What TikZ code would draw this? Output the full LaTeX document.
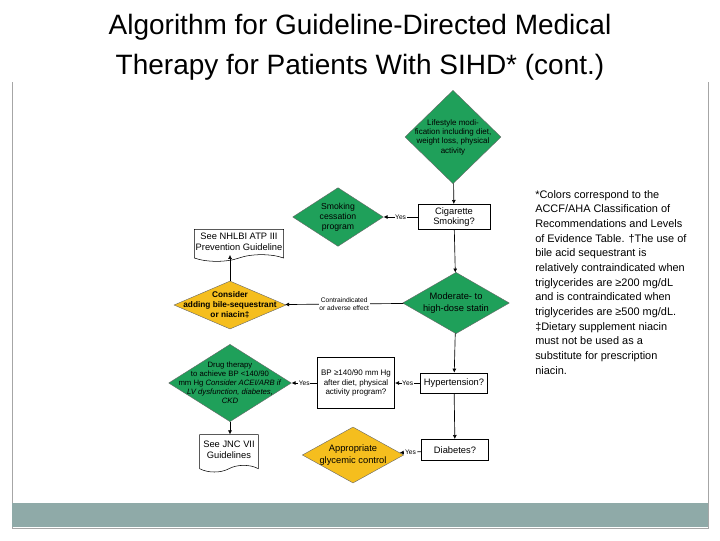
\documentclass[tikz,border=0pt]{standalone}
\usepackage{fontspec}
\setmainfont{Liberation Sans}
\usetikzlibrary{shapes.geometric,shapes.symbols,arrows.meta}
\definecolor{gr}{HTML}{1FA05A}
\definecolor{yl}{HTML}{F5BE1E}
\definecolor{bar}{HTML}{8FAAA8}
\begin{document}
\begin{tikzpicture}[x=0.75pt,y=-0.75pt,
  dia/.style={diamond,draw=black!60,line width=0.3pt,inner sep=0pt},
  tx/.style={align=center,font=\fontsize{6.5}{7.5}\selectfont,inner sep=0pt},
  bx/.style={draw,line width=0.5pt,align=center,font=\fontsize{7}{8}\selectfont,inner sep=1pt},
  doc/.style={tape,tape bend top=none,draw,line width=0.4pt,align=center,font=\fontsize{7}{8}\selectfont,inner sep=1pt},
  ar/.style={-{Latex[length=3pt,width=3pt]},line width=0.5pt},
  lb/.style={font=\fontsize{5}{6}\selectfont,fill=white,inner sep=0.5pt,align=center}]
\useasboundingbox (0,0) rectangle (720,540);
\fill[white] (0,0) rectangle (720,540);
\draw[black!35] (12,82) -- (12,528) -- (708,528) -- (708,82);
\fill[bar] (12,503) rectangle (708,527);
\node[font=\fontsize{21}{30}\selectfont,align=center] (title) at (360,47) {Algorithm for Guideline-Directed Medical\\Therapy for Patients With SIHD* (cont.)};
\node[dia,fill=gr,minimum width=72,minimum height=70] (life) at (453,137) {};
\node[tx,font=\fontsize{6}{7}\selectfont] at (life) {Lifestyle modi-\\fication including diet,\\weight loss, physical\\activity};
\node[bx,minimum width=54,minimum height=19] (cig) at (454,217) {Cigarette\\Smoking?};
\node[dia,fill=gr,minimum width=68,minimum height=44] (smk) at (338,217) {};
\node[tx] at (smk) {Smoking\\cessation\\program};
\node[doc,minimum width=66,minimum height=24] (nhl) at (239,242) {See NHLBI ATP III\\Prevention Guideline};
\node[dia,fill=gr,minimum width=80,minimum height=46] (sta) at (456,303) {};
\node[tx,font=\fontsize{7}{8.5}\selectfont] at (sta) {Moderate- to\\high-dose statin};
\node[dia,fill=yl,minimum width=84,minimum height=36] (con) at (230,305) {};
\node[tx,font=\fontsize{6.2}{7.3}\selectfont\bfseries] at (con) {Consider\\adding bile-sequestrant\\or niacin‡};
\node[bx,minimum width=50,minimum height=15] (hyp) at (454,383) {Hypertension?};
\node[bx,minimum width=58,minimum height=38,font=\fontsize{6}{7}\selectfont] (bp) at (356,383) {BP ≥140/90 mm Hg\\after diet, physical\\activity program?};
\node[dia,fill=gr,minimum width=92,minimum height=58] (drg) at (230,383) {};
\node[tx,font=\fontsize{5.8}{6.8}\selectfont] at (drg) {Drug therapy\\to achieve BP <140/90\\mm Hg \textit{Consider ACEI/ARB if}\\\textit{LV dysfunction, diabetes,}\\\textit{CKD}};
\node[doc,minimum width=44,minimum height=28] (jnc) at (229,450) {See JNC VII\\Guidelines};
\node[dia,fill=yl,minimum width=76,minimum height=42] (gly) at (353,455) {};
\node[tx,font=\fontsize{7}{8.5}\selectfont] at (gly) {Appropriate\\glycemic control};
\node[bx,minimum width=50,minimum height=16] (dia) at (455,450) {Diabetes?};
\draw[ar] (life) -- (cig);
\draw[ar] (cig) -- node[lb]{Yes} (smk);
\draw[ar] (cig) -- (sta);
\draw[ar] (sta) -- node[lb]{Contraindicated\\or adverse effect} (con);
\draw[ar] (con) -- (con.north |- nhl.south);
\draw[ar] (sta) -- (hyp);
\draw[ar] (hyp) -- node[lb]{Yes} (bp);
\draw[ar] (bp) -- node[lb]{Yes} (drg);
\draw[ar] (drg) -- (drg.south |- jnc.north);
\draw[ar] (hyp) -- (dia);
\draw[ar] (dia) -- node[lb]{Yes} (gly);
\node[anchor=north west,align=left,font=\fontsize{8.2}{11}\selectfont,inner sep=0pt] (note) at (535,190) {*Colors correspond to the\\ACCF/AHA Classification of\\Recommendations and Levels\\of Evidence Table. †The use of\\bile acid sequestrant is\\relatively contraindicated when\\triglycerides are ≥200 mg/dL\\and is contraindicated when\\triglycerides are ≥500 mg/dL.\\‡Dietary supplement niacin\\must not be used as a\\substitute for prescription\\niacin.};
\end{tikzpicture}
\end{document}
